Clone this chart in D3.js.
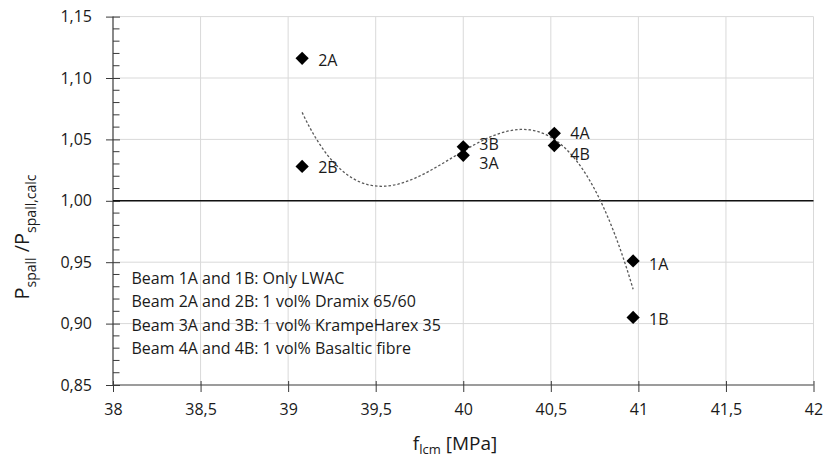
<!DOCTYPE html>
<html>
<head>
<meta charset="utf-8">
<script src="https://cdn.jsdelivr.net/npm/d3@7/dist/d3.min.js"></script>
<style>
  html, body { margin: 0; padding: 0; background: #fff; }
  svg { display: block; font-family: "Open Sans", sans-serif; }
</style>
</head>
<body>
<svg id="chart" width="829" height="462"></svg>
<script>
// ---- data ----
const labels = ["1A", "1B", "2A", "2B", "3A", "3B", "4A", "4B"];
const fLcm   = [40.97, 40.97, 39.08, 39.08, 40.00, 40.00, 40.52, 40.52];
const ratio  = [0.951, 0.905, 1.116, 1.028, 1.037, 1.044, 1.055, 1.045];
const xTicks = [38, 38.5, 39, 39.5, 40, 40.5, 41, 41.5, 42];
const yTicks = [0.85, 0.90, 0.95, 1.00, 1.05, 1.10, 1.15];
const referenceLine = 1.00;
const notes = [
  "Beam 1A and 1B: Only LWAC",
  "Beam 2A and 2B: 1 vol% Dramix 65/60",
  "Beam 3A and 3B: 1 vol% KrampeHarex 35",
  "Beam 4A and 4B: 1 vol% Basaltic fibre"
];

// label offsets (layout only)
const labelDy = {"1A": 3, "1B": 1.5, "2A": 2, "2B": 1, "3A": 8, "3B": -2, "4A": 0, "4B": 9};

// ---- layout ----
const svg = d3.select("#chart");
const L = 113, R = 813.5, T = 16.6, B = 385;
const x = d3.scaleLinear().domain([38, 42]).range([L, R]);
const y = d3.scaleLinear().domain([0.85, 1.15]).range([B, T]);
const fmt = d => d3.format(",")(d).replace(".", ",");
const fmtY = d => d.toFixed(2).replace(".", ",");
const textCol = "#1a1a1a";
const axisCol = "#3a3a3a";

// gridlines
const grid = svg.append("g");
grid.selectAll("line.v").data(xTicks.slice(1)).join("line")
  .attr("x1", d => x(d)).attr("x2", d => x(d)).attr("y1", T).attr("y2", B)
  .attr("stroke", "#d9d9d9").attr("stroke-width", 1);
grid.selectAll("line.h").data(yTicks.slice(1)).join("line")
  .attr("x1", L).attr("x2", R).attr("y1", d => y(d)).attr("y2", d => y(d))
  .attr("stroke", "#d9d9d9").attr("stroke-width", 1);

// y axis: major ticks crossing, minor ticks inside
const yAxis = svg.append("g").attr("transform", `translate(${L},0)`);
yAxis.call(d3.axisLeft(y).tickValues(yTicks).tickFormat(fmtY).tickSize(6).tickPadding(14))
  .call(g => g.select(".domain").remove());
yAxis.selectAll(".tick line").attr("x2", -7).attr("x1", 7).attr("stroke", axisCol);
yAxis.selectAll(".tick text").attr("font-size", 16).attr("fill", textCol)
  .attr("font-family", "Open Sans").attr("x", -21);
const minor = d3.range(85, 116).map(v => v / 100).filter(v => Math.round(v * 100) % 5 !== 0);
yAxis.selectAll("line.minor").data(minor).join("line")
  .attr("x1", 0).attr("x2", 6.5).attr("y1", d => y(d)).attr("y2", d => y(d))
  .attr("stroke", axisCol).attr("stroke-width", 1);
yAxis.append("line").attr("x1", 0).attr("x2", 0).attr("y1", T).attr("y2", B)
  .attr("stroke", axisCol).attr("stroke-width", 1.2);

// x axis
const xAxis = svg.append("g").attr("transform", `translate(0,${B})`);
xAxis.call(d3.axisBottom(x).tickValues(xTicks).tickFormat(fmt).tickSize(7).tickPadding(12))
  .call(g => g.select(".domain").remove());
xAxis.selectAll(".tick line").attr("y1", -4).attr("y2", 7).attr("stroke", axisCol);
xAxis.selectAll(".tick text").attr("font-size", 16).attr("fill", textCol)
  .attr("font-family", "Open Sans");
xAxis.append("line").attr("x1", L).attr("x2", R).attr("y1", 0).attr("y2", 0)
  .attr("stroke", axisCol).attr("stroke-width", 1.2);

// reference line at 1,00
svg.append("line")
  .attr("x1", x(38)).attr("x2", x(42))
  .attr("y1", y(referenceLine)).attr("y2", y(referenceLine))
  .attr("stroke", "#111").attr("stroke-width", 1.6);

// polynomial (order 3) trendline, least-squares fit of the points
function polyFit(xs, ys, order) {
  const n = order + 1;
  const A = Array.from({length: n}, () => new Array(n + 1).fill(0));
  const x0 = d3.mean(xs);
  for (let k = 0; k < xs.length; k++) {
    const xv = xs[k] - x0;
    for (let i = 0; i < n; i++) {
      for (let j = 0; j < n; j++) A[i][j] += Math.pow(xv, i + j);
      A[i][n] += ys[k] * Math.pow(xv, i);
    }
  }
  for (let i = 0; i < n; i++) {
    let p = i;
    for (let r = i + 1; r < n; r++) if (Math.abs(A[r][i]) > Math.abs(A[p][i])) p = r;
    [A[i], A[p]] = [A[p], A[i]];
    for (let r = 0; r < n; r++) {
      if (r === i) continue;
      const f = A[r][i] / A[i][i];
      for (let c = i; c <= n; c++) A[r][c] -= f * A[i][c];
    }
  }
  const coef = A.map((row, i) => row[n] / row[i]);
  return xv => coef.reduce((s, c, i) => s + c * Math.pow(xv - x0, i), 0);
}
const trend = polyFit(fLcm, ratio, 3);
const [xmin, xmax] = d3.extent(fLcm);
const trendX = d3.range(0, 101).map(i => xmin + (xmax - xmin) * i / 100);
svg.append("path")
  .datum(trendX)
  .attr("d", d3.line().x(d => x(d)).y(d => y(trend(d))))
  .attr("fill", "none").attr("stroke", "#595959")
  .attr("stroke-width", 1.3).attr("stroke-dasharray", "2.5,2");

// markers
const pts = labels.map((l, i) => ({l, fx: fLcm[i], r: ratio[i]}));
svg.append("g").selectAll("path").data(pts).join("path")
  .attr("d", d3.symbol().type(d3.symbolDiamond2 || d3.symbolDiamond).size(112)())
  .attr("transform", d => `translate(${x(d.fx)},${y(d.r)})`)
  .attr("fill", "#000");

// data labels
svg.append("g").selectAll("text").data(pts).join("text")
  .attr("x", d => x(d.fx) + 16)
  .attr("y", d => y(d.r) + labelDy[d.l])
  .attr("dy", "0.35em")
  .attr("font-size", 16).attr("fill", textCol)
  .text(d => d.l);

// notes text box
svg.append("g").selectAll("text").data(notes).join("text")
  .attr("x", 131.5)
  .attr("y", (d, i) => 284 + i * 23.3)
  .attr("font-size", 16).attr("fill", textCol)
  .text(d => d);

// axis titles
const xt = svg.append("text").attr("x", 455).attr("y", 450)
  .attr("text-anchor", "middle").attr("font-size", 19).attr("fill", textCol);
xt.append("tspan").text("f");
xt.append("tspan").attr("font-size", 13).attr("dy", 4).text("lcm");
xt.append("tspan").attr("dy", -4).text(" [MPa]");

const yt = svg.append("text")
  .attr("transform", `translate(28.5,237) rotate(-90)`)
  .attr("text-anchor", "middle").attr("font-size", 20).attr("fill", textCol);
yt.append("tspan").text("P");
yt.append("tspan").attr("font-size", 14).attr("dy", 7).text("spall");
yt.append("tspan").attr("dy", -7).text(" /P");
yt.append("tspan").attr("font-size", 14).attr("dy", 7).text("spall,calc");
</script>
</body>
</html>
